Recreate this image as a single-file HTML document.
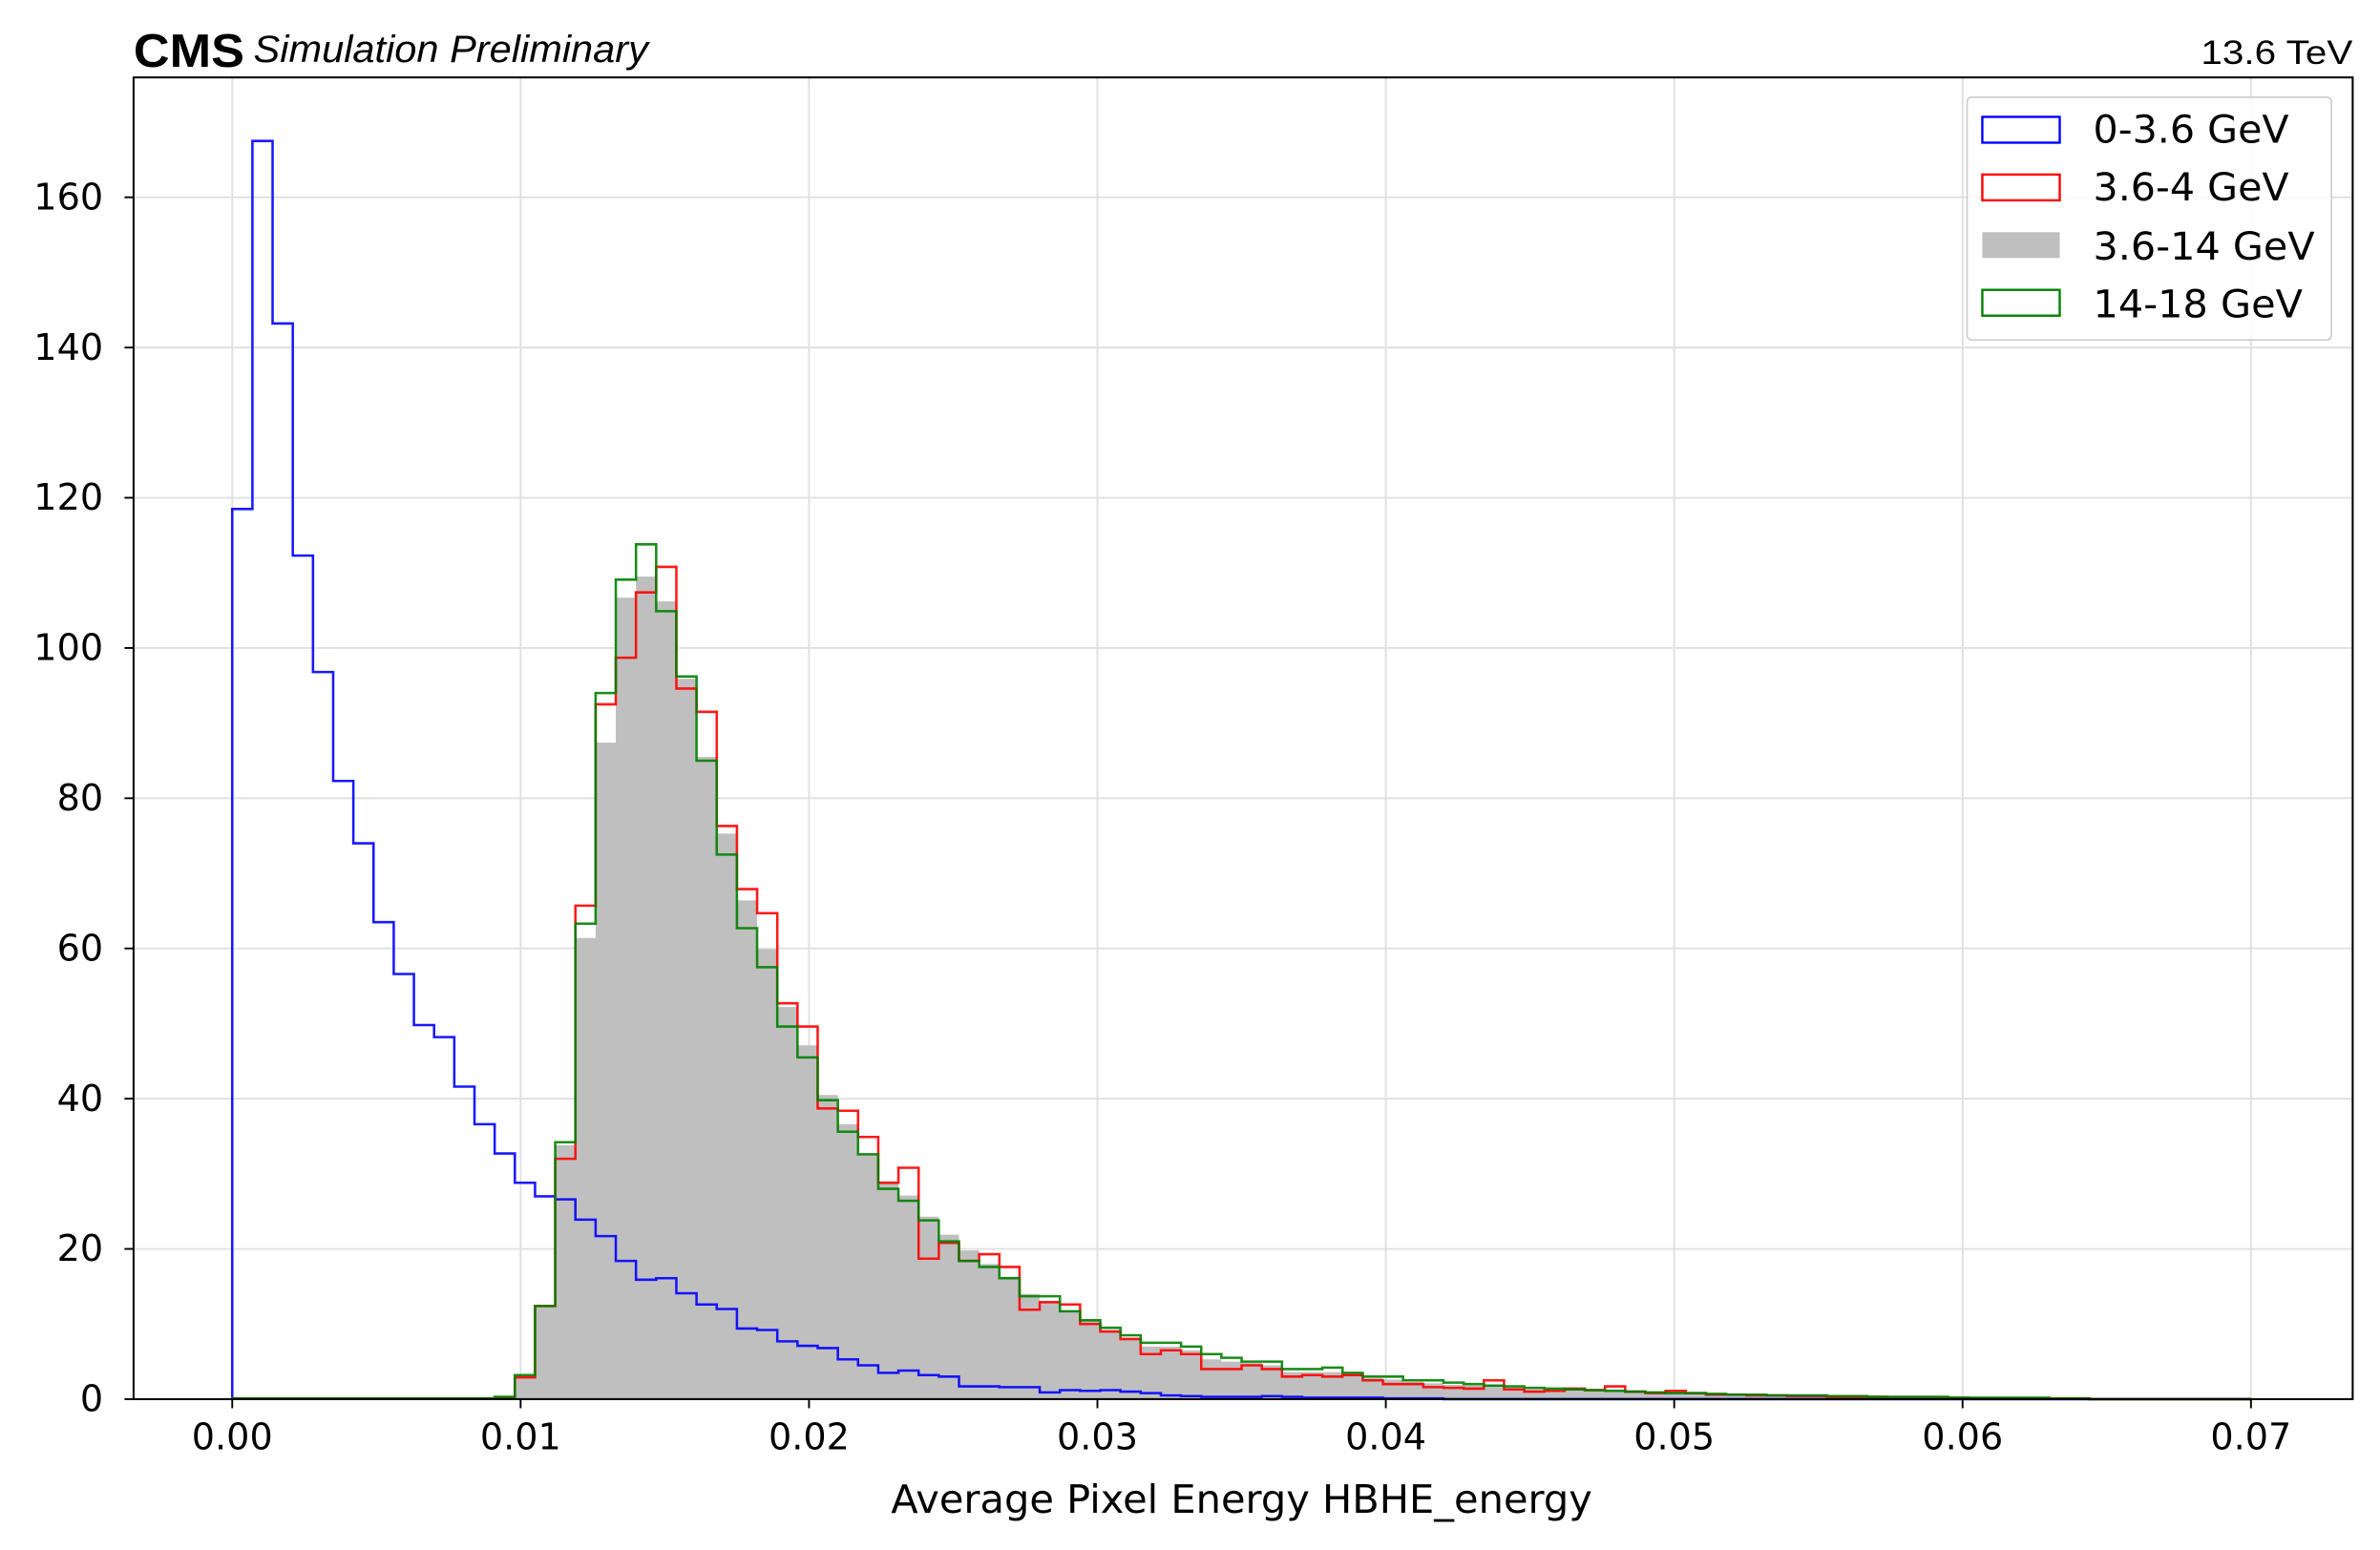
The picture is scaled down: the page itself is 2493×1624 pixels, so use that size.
<!DOCTYPE html>
<html><head><meta charset="utf-8"><style>
html,body{margin:0;padding:0;background:#fff;}
svg{display:block;font-family:"DejaVu Sans","Liberation Sans",sans-serif;}
</style></head><body>
<svg id="chart" width="2493" height="1624" viewBox="0 0 1568 1021.4" xmlns="http://www.w3.org/2000/svg">
<rect x="0" y="0" width="1568" height="1021.4" fill="#fff"/>
<g id="grid"></g>
<g id="hists"></g>
<rect x="88" y="51" width="1462" height="871" fill="none" stroke="#000" stroke-width="1.3"/>
<g id="ticks"></g>
<text x="818" y="997" font-size="25.5" text-anchor="middle" textLength="462" lengthAdjust="spacingAndGlyphs">Average Pixel Energy HBHE_energy</text>
<text x="88" y="44" font-size="31" font-weight="bold" font-family="Liberation Sans, sans-serif" textLength="73" lengthAdjust="spacingAndGlyphs">CMS</text>
<text x="167" y="41" font-size="25" font-style="italic" font-family="Liberation Sans, sans-serif" textLength="260" lengthAdjust="spacingAndGlyphs">Simulation Preliminary</text>
<text x="1550" y="42" font-size="22" text-anchor="end" font-family="Liberation Sans, sans-serif" textLength="100" lengthAdjust="spacingAndGlyphs">13.6 TeV</text>
<g>
<rect x="1296" y="64" width="240" height="160" rx="3" fill="#fff" fill-opacity="0.8" stroke="#ccc" stroke-width="1"/>
<g><rect x="1306" y="77" width="51" height="17" fill="none" stroke="#0000ff" stroke-width="1.5"/><text x="1379" y="94" font-size="25" textLength="129" lengthAdjust="spacingAndGlyphs">0-3.6 GeV</text></g>
<g><rect x="1306" y="115" width="51" height="17" fill="none" stroke="#ff0000" stroke-width="1.5"/><text x="1379" y="132" font-size="25" textLength="129" lengthAdjust="spacingAndGlyphs">3.6-4 GeV</text></g>
<g><rect x="1306" y="153" width="51" height="17" fill="#bfbfbf"/><text x="1379" y="171" font-size="25" textLength="146" lengthAdjust="spacingAndGlyphs">3.6-14 GeV</text></g>
<g><rect x="1306" y="191" width="51" height="17" fill="none" stroke="#008000" stroke-width="1.5"/><text x="1379" y="209" font-size="25" textLength="138" lengthAdjust="spacingAndGlyphs">14-18 GeV</text></g>
</g>
</svg>
<script>
const binWidth = 0.0007;
const nBins = 100;
const xTicks = [0,0.01,0.02,0.03,0.04,0.05,0.06,0.07];
const xTickLabels = ["0.00","0.01","0.02","0.03","0.04","0.05","0.06","0.07"];
const yTicks = [0,20,40,60,80,100,120,140,160];
const blueHead = [118.5,167.5,143.2,112.3,96.8,82.3,74,63.5,56.6,49.8,48.2,41.6,36.6,32.7,28.8,27.0,26.6,23.9,21.7,18.4,15.9,16.1,14.1,12.6,12.0,9.4,9.2,7.7,7.1,6.8,5.3,4.5,3.5,3.8,3.2,3.0,1.7,1.7,1.6,1.6,0.9,1.2,1.1,1.2,1.0,0.8,0.5,0.4,0.3,0.3,0.3,0.4,0.3,0.2,0.2,0.2,0.2,0.1,0.1,0.1];
const redHead = [0.1,0.1,0.1,0.1,0.1,0.1,0.1,0.1,0.1,0.1,0.1,0.1,0.1,0.2,2.9,12.4,32.0,65.7,92.5,98.7,107.4,110.8,94.6,91.5,76.3,67.9,64.7,52.7,49.6,38.7,38.4,34.9,28.8,30.8,18.7,20.8,18.4,19.3,17.6,11.9,12.9,12.6,10,9,8,6,6.5,6,4,4,4.5,4,3,3.2,3,3.2,2.5,2,2,1.6,1.5,1.4,2.5,1.3,1,1.1,1.4,1.2,1.7,1,0.8,1.1,0.8,0.6,0.6,0.5,0.5,0.4,0.4,0.3,0.3,0.3,0.2,0.2,0.2,0.2,0.1,0.1,0.1,0.1,0.1,0.1];
const greyHead = [0.1,0.1,0.1,0.1,0.1,0.1,0.1,0.1,0.1,0.1,0.1,0.1,0.1,0.2,3.0,12.4,33.8,61.4,87.4,106.7,109.5,106.2,95.9,85.5,75.3,66.4,59.9,52.2,47.1,40.5,36.6,32.6,29.0,27.1,24.3,21.9,19.8,18.0,16.3,14.0,13.1,11.8,10.5,9.2,8.2,7.0,7.0,6.5,5.3,5.0,4.8,4.5,3.6,3.6,3.6,3.3,2.8,2.6,2.3,2.1,1.9,1.8,1.9,1.5,1.3,1.3,1.3,1.2,1.2,1.0,0.9,0.9,0.8,0.7,0.6,0.6,0.5,0.5,0.4,0.4,0.3,0.3,0.3,0.3,0.2,0.2,0.2,0.2,0.2,0.1,0.1,0.1];
const greenHead = [0.1,0.1,0.1,0.1,0.1,0.1,0.1,0.1,0.1,0.1,0.1,0.1,0.1,0.3,3.2,12.4,34.2,63.3,94.0,109.1,113.8,104.9,96.2,85.0,72.5,62.7,57.5,49.6,45.5,39.8,35.6,32.6,28.0,26.4,23.8,21.0,18.4,17.6,16.1,13.7,13.7,11.7,10.5,9.5,8.5,7.5,7.5,7,6,5.5,5,5,4,4,4.2,3.5,3,3,2.5,2.5,2.2,2,1.8,1.7,1.5,1.4,1.3,1.2,1.1,1,0.9,0.8,0.8,0.7,0.6,0.6,0.5,0.5,0.5,0.4,0.4,0.3,0.3,0.3,0.3,0.2,0.2,0.2,0.2,0.2,0.1,0.1];

const NS = "http://www.w3.org/2000/svg";
function xs(v){ return 153 + v*19000; }
function ys(v){ return 922 - v*4.95; }
function full(a){ const r=[]; for(let i=0;i<nBins;i++) r.push(i<a.length?a[i]:0); return r; }
function stepPath(vals, closed){
  let d = "M"+xs(0)+","+ys(0);
  for(let i=0;i<nBins;i++){ d += " V"+ys(vals[i])+" H"+xs((i+1)*binWidth); }
  d += " V"+ys(0);
  if(closed) d += " Z";
  return d;
}
const grid = document.getElementById('grid');
const ticks = document.getElementById('ticks');
xTicks.forEach((t,i)=>{
  const g=document.createElementNS(NS,'line');
  
  
  g.setAttribute('x1',xs(t));g.setAttribute('x2',xs(t));g.setAttribute('y1',51);g.setAttribute('y2',922);
  g.setAttribute('stroke','#e0e0e0');g.setAttribute('stroke-width','1.2');grid.appendChild(g);
  const tk=document.createElementNS(NS,'line');
  
  
  tk.setAttribute('x1',xs(t));tk.setAttribute('x2',xs(t));tk.setAttribute('y1',922);tk.setAttribute('y2',928);
  tk.setAttribute('stroke','#000');tk.setAttribute('stroke-width','1.2');ticks.appendChild(tk);
  const tx=document.createElementNS(NS,'text');
  
  
  tx.setAttribute('x',xs(t));tx.setAttribute('y',955);tx.setAttribute('font-size','24');tx.setAttribute('text-anchor','middle');
  tx.textContent=xTickLabels[i];ticks.appendChild(tx);
});
yTicks.forEach(t=>{
  const g=document.createElementNS(NS,'line');
  
  
  g.setAttribute('x1',88);g.setAttribute('x2',1550);g.setAttribute('y1',ys(t));g.setAttribute('y2',ys(t));
  g.setAttribute('stroke','#e0e0e0');g.setAttribute('stroke-width','1.2');grid.appendChild(g);
  const tk=document.createElementNS(NS,'line');
  
  
  tk.setAttribute('x1',82);tk.setAttribute('x2',88);tk.setAttribute('y1',ys(t));tk.setAttribute('y2',ys(t));
  tk.setAttribute('stroke','#000');tk.setAttribute('stroke-width','1.2');ticks.appendChild(tk);
  const tx=document.createElementNS(NS,'text');
  
  
  tx.setAttribute('x',68);tx.setAttribute('y',ys(t)+8);tx.setAttribute('font-size','24');tx.setAttribute('text-anchor','end');
  tx.textContent=String(t);ticks.appendChild(tx);
});
const hists = document.getElementById('hists');
const grey=document.createElementNS(NS,'path');


grey.setAttribute('d',stepPath(full(greyHead),true));grey.setAttribute('fill','#bfbfbf');hists.appendChild(grey);
[["hist-0-3.6-gev",blueHead,"#0000ff"],["hist-3.6-4-gev",redHead,"#ff0000"],["hist-14-18-gev",greenHead,"#008000"]].forEach(s=>{
  const p=document.createElementNS(NS,'path');
  
  
  p.setAttribute('d',stepPath(full(s[1]),false));p.setAttribute('fill','none');p.setAttribute('stroke',s[2]);
  p.setAttribute('stroke-width','1.6');p.setAttribute('stroke-opacity','0.9');hists.appendChild(p);
});
</script>
</body></html>
